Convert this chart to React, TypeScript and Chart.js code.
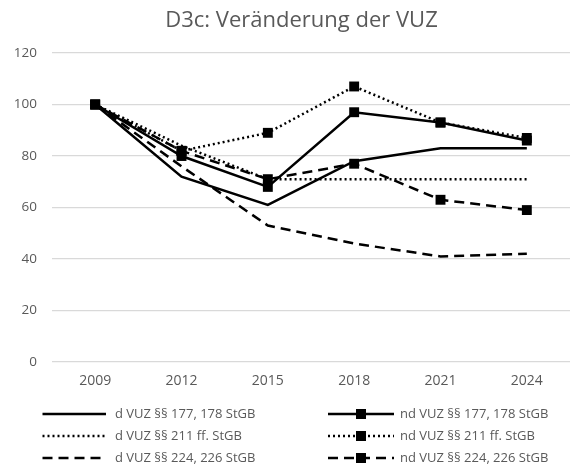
import React, { useEffect, useRef } from "react";
import { Chart, registerables } from "chart.js";

Chart.register(...registerables);

const title = "D3c: Veränderung der VUZ";
const years = ["2009", "2012", "2015", "2018", "2021", "2024"];
const yTicks = [0, 20, 40, 60, 80, 100, 120];

const seriesNames = [
  "d VUZ §§ 177, 178 StGB",
  "nd VUZ §§ 177, 178 StGB",
  "d VUZ §§ 211 ff. StGB",
  "nd VUZ §§ 211 ff. StGB",
  "d VUZ §§ 224, 226 StGB",
  "nd VUZ §§ 224, 226 StGB",
];

const d177 = [100, 72, 61, 78, 83, 83];
const nd177 = [100, 80, 68, 97, 93, 86];
const d211 = [100, 84, 71, 71, 71, 71];
const nd211 = [100, 82, 89, 107, 93, 87];
const d224 = [100, 76, 53, 46, 41, 42];
const nd224 = [100, 82, 71, 77, 63, 59];

const seriesValues = [d177, nd177, d211, nd211, d224, nd224];
const seriesDash: number[][] = [[], [], [2, 3], [2, 3], [10, 6], [10, 6]];
const seriesMarker = [false, true, false, true, false, true];

const TEXT = "#595959";
const FONT = "'Open Sans', 'Liberation Sans', sans-serif";

const titlePlugin = {
  id: "customTitle",
  afterDraw(chart: any) {
    const ctx = chart.ctx;
    ctx.save();
    ctx.fillStyle = TEXT;
    ctx.font = `22px ${FONT}`;
    ctx.textAlign = "center";
    ctx.textBaseline = "middle";
    ctx.fillText(title, 293.5, 12.5);
    ctx.restore();
  },
};

const legendPlugin = {
  id: "customLegend",
  afterDraw(chart: any) {
    const ctx = chart.ctx;
    const cols = [
      { x0: 34.5, x1: 98, tx: 107 },
      { x0: 320, x1: 386, tx: 392 },
    ];
    const rows = [406, 428, 450];
    chart.data.datasets.forEach((ds: any, i: number) => {
      const c = cols[i % 2];
      const y = rows[Math.floor(i / 2)];
      ctx.save();
      ctx.strokeStyle = ds.borderColor;
      ctx.lineWidth = ds.borderWidth;
      ctx.setLineDash(ds.borderDash || []);
      ctx.beginPath();
      ctx.moveTo(c.x0, y);
      ctx.lineTo(c.x1, y);
      ctx.stroke();
      ctx.setLineDash([]);
      if (ds.pointRadius > 0) {
        const s = 5;
        const mx = (c.x0 + c.x1) / 2;
        ctx.fillStyle = "#000";
        ctx.fillRect(mx - s, y - s, 2 * s, 2 * s);
      }
      ctx.fillStyle = TEXT;
      ctx.font = `13px ${FONT}`;
      ctx.textAlign = "left";
      ctx.textBaseline = "middle";
      ctx.fillText(ds.label, c.tx, y);
      ctx.restore();
    });
  },
};

export default function App() {
  const ref = useRef<HTMLCanvasElement>(null);
  useEffect(() => {
    if (!ref.current) return;
    const chart = new Chart(ref.current, {
      type: "line",
      data: {
        labels: years,
        datasets: seriesValues.map((vals, i) => ({
          label: seriesNames[i],
          data: vals,
          borderColor: "#000",
          backgroundColor: "#000",
          borderWidth: 2.5,
          borderDash: seriesDash[i],
          pointStyle: "rect",
          pointRadius: seriesMarker[i] ? 7 : 0,
          pointHoverRadius: seriesMarker[i] ? 7 : 0,
          pointBorderWidth: 0,
          pointBackgroundColor: "#000",
          tension: 0,
          fill: false,
        })),
      },
      options: {
        animation: false,
        responsive: true,
        maintainAspectRatio: false,
        layout: { padding: { left: 0, right: 3, top: 45, bottom: 77 } },
        plugins: {
          legend: { display: false },
          title: { display: false },
          tooltip: { enabled: false },
        },
        scales: {
          x: {
            offset: true,
            grid: { display: false, drawTicks: false },
            border: { display: false },
            ticks: { color: TEXT, font: { size: 14, family: FONT }, padding: 11, maxRotation: 0 },
            afterFit: (s: any) => {
              s.height = 30;
            },
          },
          y: {
            min: 0,
            max: 120,
            afterBuildTicks: (s: any) => {
              s.ticks = yTicks.map((v) => ({ value: v }));
            },
            grid: { color: "#d9d9d9", lineWidth: 1.3, drawTicks: false },
            border: { display: false },
            ticks: { color: TEXT, font: { size: 13.5, family: FONT }, padding: 15 },
            afterFit: (s: any) => {
              s.width = 44;
            },
          },
        },
      },
      plugins: [titlePlugin, legendPlugin],
    });
    return () => chart.destroy();
  }, []);
  return (
    <div style={{ width: 569, height: 461, position: "relative" }}>
      <canvas ref={ref} />
    </div>
  );
}
